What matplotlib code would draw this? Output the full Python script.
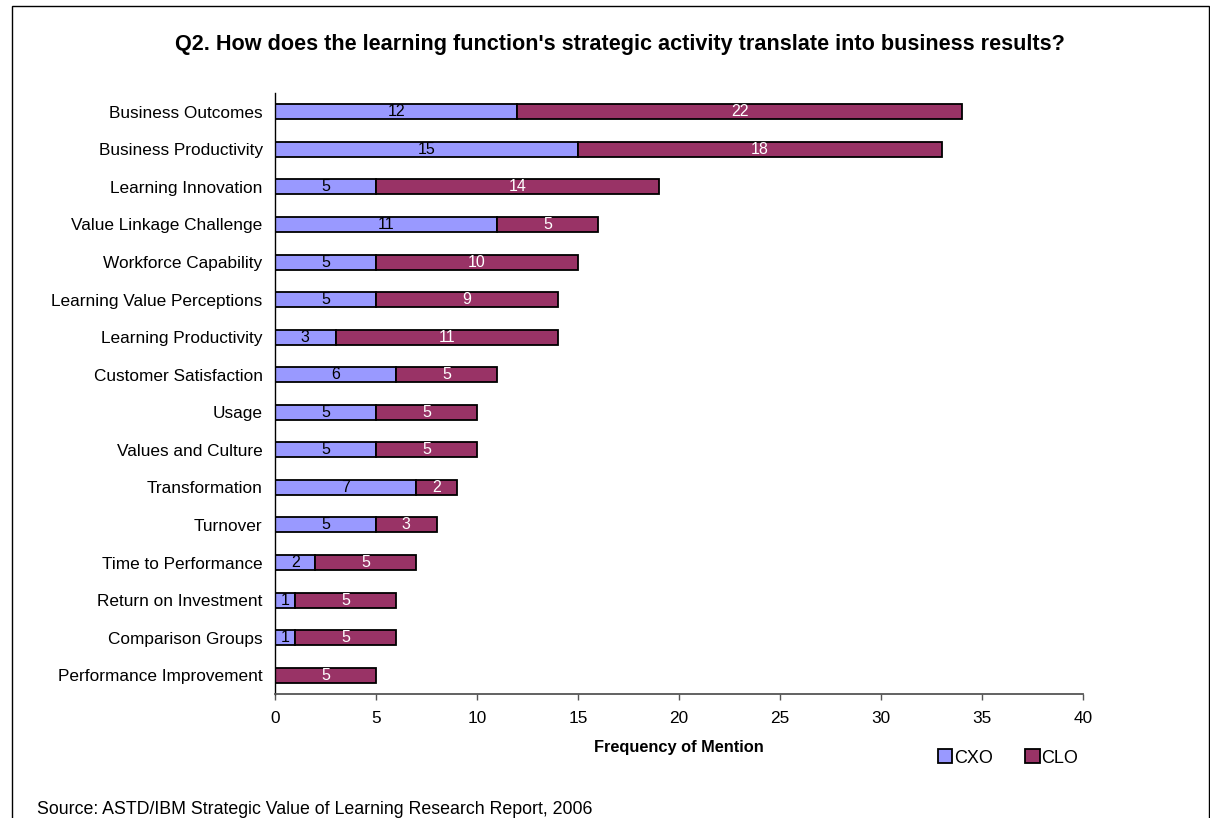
import matplotlib.pyplot as plt
from matplotlib.patches import Rectangle

plt.rcParams["font.family"] = ["Liberation Sans", "DejaVu Sans"]

# data, top to bottom
categories = [
    "Business Outcomes", "Business Productivity", "Learning Innovation",
    "Value Linkage Challenge", "Workforce Capability", "Learning Value Perceptions",
    "Learning Productivity", "Customer Satisfaction", "Usage", "Values and Culture",
    "Transformation", "Turnover", "Time to Performance", "Return on Investment",
    "Comparison Groups", "Performance Improvement",
]
cxo = [12, 15, 5, 11, 5, 5, 3, 6, 5, 5, 7, 5, 2, 1, 1, 0]
clo = [22, 18, 14, 5, 10, 9, 11, 5, 5, 5, 2, 3, 5, 5, 5, 5]
xticks = [0, 5, 10, 15, 20, 25, 30, 35, 40]

CXO_COLOR = "#9999FF"
CLO_COLOR = "#993366"

fig = plt.figure(figsize=(12.1, 8.18), dpi=100)
ax = fig.add_axes([0.2273, 0.1516, 0.6677, 0.7347])

# frame round the whole chart
fig.patches.append(Rectangle((12 / 1210, -0.1), 1197 / 1210, 1.1 - 6 / 818,
                             transform=fig.transFigure, fill=False,
                             edgecolor="black", linewidth=1.0))

ypos = list(range(len(categories)))[::-1]

b1 = ax.barh(ypos, cxo, height=0.4, color=CXO_COLOR, edgecolor="black",
             linewidth=1.3, label="CXO")
b2 = ax.barh(ypos, clo, left=cxo, height=0.4, color=CLO_COLOR, edgecolor="black",
             linewidth=1.3, label="CLO")

for y, a, b in zip(ypos, cxo, clo):
    if a > 0:
        ax.text(a / 2, y, str(a), ha="center", va="center", fontsize=11.5, color="black")
    if b > 0:
        ax.text(a + b / 2, y, str(b), ha="center", va="center", fontsize=11.5, color="white")

ax.set_yticks(ypos)
ax.set_yticklabels(categories, fontsize=12.4)
ax.set_ylim(-0.5, len(categories) - 0.5)
ax.set_xlim(0, 40)
ax.set_xticks(xticks)
ax.set_xticklabels([str(t) for t in xticks], fontsize=12.4)
ax.tick_params(axis="y", length=0, pad=9)
ax.tick_params(axis="x", length=4, width=1, color="#555555", pad=8)

for side in ["top", "right"]:
    ax.spines[side].set_visible(False)
ax.spines["left"].set_color("black")
ax.spines["bottom"].set_color("#555555")
ax.spines["left"].set_linewidth(1.0)
ax.spines["bottom"].set_linewidth(1.3)

ax.set_xlabel("Frequency of Mention", fontsize=11.8, fontweight="bold", labelpad=10)

fig.text(0.512, 0.946, "Q2. How does the learning function's strategic activity translate into business results?",
         ha="center", va="center", fontsize=15.6, fontweight="bold")

fig.legend(handles=[b1, b2], labels=["CXO", "CLO"], loc="center",
           bbox_to_anchor=(1008 / 1210, 1 - 758 / 818), ncol=2, frameon=False,
           fontsize=13, handlelength=0.8, handleheight=0.8, handletextpad=0.1,
           columnspacing=1.8)

fig.text(37 / 1210, 1 - 810 / 818, "Source: ASTD/IBM Strategic Value of Learning Research Report, 2006",
         ha="left", va="center", fontsize=12.8)

fig.savefig("out.png", dpi=100)
